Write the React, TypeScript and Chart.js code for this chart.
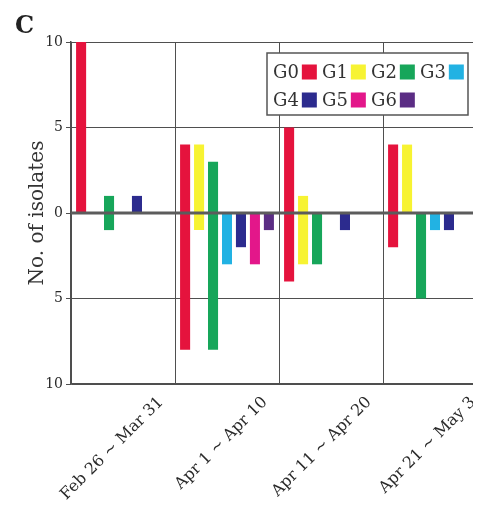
import { useEffect, useRef } from "react";
import { Chart, registerables } from "chart.js";
Chart.register(...registerables);

const categories = ["Feb 26 ~ Mar 31", "Apr 1 ~ Apr 10", "Apr 11 ~ Apr 20", "Apr 21 ~ May 3"];
const groupNames = ["G0", "G1", "G2", "G3", "G4", "G5", "G6"];
const groupColors = ["#e5133d", "#f7f332", "#17a65a", "#22b2e3", "#2c2b8e", "#e3178a", "#5b2d84"];

// counts above zero and below zero per category
const g0Up = [10, 4, 5, 4];
const g0Down = [0, 8, 4, 2];
const g1Up = [0, 4, 1, 4];
const g1Down = [0, 1, 3, 0];
const g2Up = [1, 3, 0, 0];
const g2Down = [1, 8, 3, 5];
const g3Up = [0, 0, 0, 0];
const g3Down = [0, 3, 0, 1];
const g4Up = [1, 0, 0, 0];
const g4Down = [0, 2, 1, 1];
const g5Up = [0, 0, 0, 0];
const g5Down = [0, 3, 0, 0];
const g6Up = [0, 0, 0, 0];
const g6Down = [0, 1, 0, 0];

const ups = [g0Up, g1Up, g2Up, g3Up, g4Up, g5Up, g6Up];
const downs = [g0Down, g1Down, g2Down, g3Down, g4Down, g5Down, g6Down];

const yMin = -10;
const yMax = 10;
const yStep = 5;

const SERIF = "'DejaVu Serif', serif";

const decorPlugin = {
  id: "decor",
  afterDatasetsDraw(chart: any) {
    const { ctx, chartArea, scales } = chart;
    const y0 = scales.y.getPixelForValue(0);
    ctx.save();
    ctx.strokeStyle = "#5c5c5c";
    ctx.lineWidth = 3;
    ctx.beginPath();
    ctx.moveTo(chartArea.left, y0);
    ctx.lineTo(chartArea.right, y0);
    ctx.stroke();
    ctx.restore();
  },
  afterDraw(chart: any) {
    const { ctx, chartArea } = chart;
    ctx.save();
    // panel letter
    ctx.fillStyle = "#222";
    ctx.font = `bold 24px ${SERIF}`;
    ctx.textBaseline = "alphabetic";
    ctx.textAlign = "left";
    ctx.fillText("C", 7, 25);

    // custom legend (label before colour box)
    const lx = chartArea.left + 196;
    const ly = chartArea.top + 11;
    const lw = 201;
    const lh = 62;
    ctx.fillStyle = "#fff";
    ctx.fillRect(lx, ly, lw, lh);
    ctx.strokeStyle = "#555";
    ctx.lineWidth = 1.5;
    ctx.strokeRect(lx, ly, lw, lh);
    ctx.font = `18px ${SERIF}`;
    ctx.textBaseline = "middle";
    const perRow = 4;
    const colW = 49;
    const rowH = 28;
    chart.data.datasets.forEach((ds: any, i: number) => {
      const col = i % perRow;
      const row = Math.floor(i / perRow);
      const x = lx + 6 + col * colW;
      const cy = ly + 19 + row * rowH;
      ctx.fillStyle = "#333";
      ctx.fillText(ds.label, x, cy + 1);
      const tw = ctx.measureText(ds.label).width;
      ctx.fillStyle = ds.backgroundColor;
      ctx.fillRect(x + tw + 3, cy - 7.5, 15, 15);
    });
    ctx.restore();
  },
};

export default function App() {
  const ref = useRef<HTMLCanvasElement | null>(null);
  useEffect(() => {
    if (!ref.current) return;
    const datasets = groupNames.map((name, g) => ({
      label: name,
      data: categories.map((_, i) =>
        ups[g][i] === 0 && downs[g][i] === 0 ? null : [-downs[g][i], ups[g][i]]
      ),
      backgroundColor: groupColors[g],
      borderWidth: 0,
      borderSkipped: false,
      categoryPercentage: 0.94,
      barPercentage: 0.72,
    }));
    const chart = new Chart(ref.current, {
      type: "bar",
      data: { labels: categories, datasets: datasets as any },
      options: {
        animation: false,
        responsive: false,
        layout: { padding: { top: 34, left: 0, right: 11, bottom: 0 } },
        plugins: { legend: { display: false }, tooltip: { enabled: false }, title: { display: false } },
        scales: {
          x: {
            grid: { color: "#4f4f4f", lineWidth: 1, offset: true, drawTicks: false },
            border: { color: "#4f4f4f", width: 1.5 },
            ticks: {
              color: "#2a2a2a",
              font: { family: SERIF, size: 16 },
              minRotation: 45,
              maxRotation: 45,
              labelOffset: 38,
              padding: 9,
              autoSkip: false,
            },
            afterFit: (s: any) => {
              s.height = 121;
            },
          },
          y: {
            min: yMin,
            max: yMax,
            grid: { color: "#4f4f4f", lineWidth: 1, tickLength: 5 },
            border: { color: "#4f4f4f", width: 1.5 },
            ticks: {
              stepSize: yStep,
              color: "#2a2a2a",
              font: { family: SERIF, size: 14 },
              padding: 3,
              callback: (v: any) => String(Math.abs(Number(v))),
            },
            title: {
              display: true,
              text: "No. of isolates",
              color: "#333",
              font: { family: SERIF, size: 20 },
              padding: { top: 18, bottom: 0 },
            },
            afterFit: (s: any) => {
              s.width = 63;
            },
          },
        },
      },
      plugins: [decorPlugin],
    });
    return () => chart.destroy();
  }, []);
  return (
    <div style={{ width: 473, height: 497, overflow: "hidden", position: "relative" }}>
      <canvas ref={ref} width={490} height={497} style={{ width: 490, height: 497, display: "block" }} />
    </div>
  );
}
